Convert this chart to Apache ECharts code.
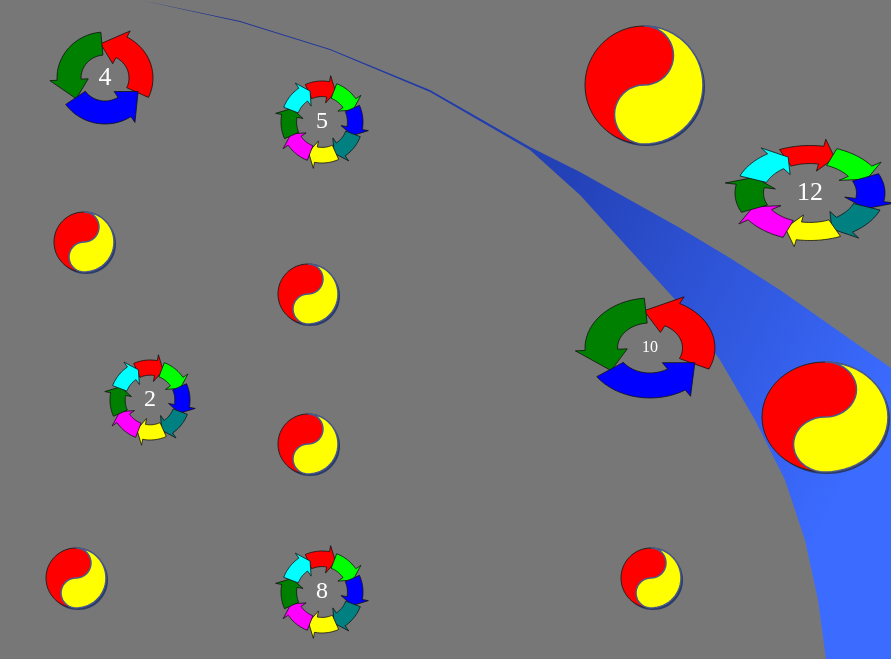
<!DOCTYPE html>
<html>
<head>
<meta charset="utf-8">
<script src="https://cdn.jsdelivr.net/npm/echarts@6/dist/echarts.min.js"></script>
<style>html,body{margin:0;padding:0;background:#777;}#main{width:891px;height:659px;}</style>
</head>
<body>
<div id="main"></div>
<script>
// nodes
var nodeNames = ['1','2','3','4','5','6','7','8','9','10','11','12','13'];
var nodeX = [76, 150, 84, 105, 322, 308, 308, 322, 651, 650, 644, 810, 825];
var nodeY = [578, 400, 242, 78, 122, 294, 444, 592, 578, 348, 85, 193, 417];
var nodeW = [60, 80, 60, 96, 82, 60, 60, 82, 60, 130, 118, 150, 126];
var nodeH = [60, 80, 60, 92, 82, 60, 60, 82, 60, 100, 118, 95, 110];
var nodeKind = ['yy','ring8','yy','ring3','ring8','yy','yy','ring8','yy','ring3','yy','ring8','yy'];
var labelSize = [26, 24, 16, 26, 24, 22, 20, 24, 22, 16, 17, 26, 16];

// swoosh edges
var swooshLeftX = [140, 240, 330, 430, 530, 580, 630, 680, 720, 755, 785, 805, 818, 826];
var swooshLeftY = [0, 22, 50, 92, 150, 195, 250, 305, 360, 420, 480, 540, 600, 659];
var swooshRightX = [140, 240, 330, 430, 530, 580, 630, 680, 730, 780, 830, 891];
var swooshRightY = [0, 21, 49, 90, 147, 172, 200, 228, 258, 290, 325, 368];

var chart = echarts.init(document.getElementById('main'));

function ringPoly(cx, cy, rx, ry, a0, a1, ri) {
  // arc arrow from a0 to a1 (degrees, math), head at a1
  var pts = [], n = 16, ro = 1.0, w = 0.15;
  var aH = a1 - (a1 - a0) * 0.28;
  function P(a, f) { var r = a * Math.PI / 180; return [cx + rx * f * Math.cos(r), cy - ry * f * Math.sin(r)]; }
  for (var i = 0; i <= n; i++) pts.push(P(a0 + (aH - a0) * i / n, ro));
  pts.push(P(aH, ro + w));
  pts.push(P(a1, (ri + ro) / 2));
  pts.push(P(aH, ri - w));
  for (var j = n; j >= 0; j--) pts.push(P(a0 + (aH - a0) * j / n, ri));
  return pts;
}

function yyPoly(cx, cy, rx, ry) {
  var pts = [], i, t;
  function P(x, y) { return [cx + x * rx, cy + y * ry]; }
  for (i = 0; i <= 30; i++) { t = -Math.PI / 2 + Math.PI * i / 30; pts.push(P(Math.cos(t), Math.sin(t))); }
  for (i = 0; i <= 20; i++) { t = Math.PI / 2 + Math.PI * i / 20; pts.push(P(0.5 * Math.cos(t), 0.5 + 0.5 * Math.sin(t))); }
  for (i = 0; i <= 20; i++) { t = Math.PI / 2 - Math.PI * i / 20; pts.push(P(0.5 * Math.cos(t), -0.5 + 0.5 * Math.sin(t))); }
  return pts;
}

var ring8Colors = ['#ff0000', '#00ff00', '#0000ff', '#008080', '#ffff00', '#ff00ff', '#008000', '#00ffff'];
var ring3Colors = ['#ff0000', '#008000', '#0000ff'];

var nodeData = nodeNames.map(function (n, i) {
  return [nodeX[i], nodeY[i], nodeW[i], nodeH[i], i];
});
var swooshData = [];
swooshLeftX.forEach(function (x, i) { swooshData.push([x, swooshLeftY[i]]); });
swooshData.push([891, 659]);
for (var k = swooshRightX.length - 1; k >= 0; k--) swooshData.push([swooshRightX[k], swooshRightY[k]]);

chart.setOption({
  backgroundColor: '#777777',
  animation: false,
  grid: { left: 0, right: 0, top: 0, bottom: 0 },
  xAxis: { type: 'value', min: 0, max: 891, show: false },
  yAxis: { type: 'value', min: 0, max: 659, inverse: true, show: false },
  series: [
    {
      type: 'custom',
      data: [0],
      renderItem: function (params, api) {
        var pts = swooshData.map(function (p) { return api.coord(p); });
        return {
          type: 'polygon',
          shape: { points: pts },
          style: {
            fill: new echarts.graphic.LinearGradient(0, 0, 1, 0.6, [
              { offset: 0, color: '#1a2f8a' },
              { offset: 0.55, color: '#2442b8' },
              { offset: 1, color: '#3b6bff' }
            ])
          }
        };
      }
    },
    {
      type: 'custom',
      data: nodeData,
      renderItem: function (params, api) {
        var c = api.coord([api.value(0), api.value(1)]);
        var rx = api.value(2) / 2, ry = api.value(3) / 2, idx = api.value(4);
        var kind = nodeKind[idx], children = [];
        if (kind === 'yy') {
          children.push({ type: 'ellipse', shape: { cx: c[0] + 2, cy: c[1] + 2, rx: rx, ry: ry }, style: { fill: '#2a3a6a' } });
          children.push({ type: 'ellipse', shape: { cx: c[0], cy: c[1], rx: rx, ry: ry }, style: { fill: '#ff0000', stroke: '#222', lineWidth: 1 } });
          children.push({ type: 'polygon', shape: { points: yyPoly(c[0], c[1], rx, ry) }, style: { fill: '#ffff00', stroke: '#4a5a8a', lineWidth: 1.5 } });
          children.push({ type: 'text', style: { text: nodeNames[idx], x: c[0] + rx * 0.1, y: c[1] - ry * 0.45, fill: '#ff0000', font: labelSize[idx] + 'px "Liberation Serif", serif', align: 'center', verticalAlign: 'middle' } });
        } else {
          var cols = kind === 'ring8' ? ring8Colors : ring3Colors;
          cols.forEach(function (col, j) {
            var a0, a1, ri;
            if (kind === 'ring8') { var m = 90 - 45 * j; a0 = m + 24; a1 = m - 24; ri = 0.62; }
            else { a0 = -25 + 120 * j; a1 = a0 + 122; ri = 0.5; }
            children.push({ type: 'polygon', shape: { points: ringPoly(c[0], c[1], rx, ry, a0, a1, ri) }, style: { fill: col, stroke: '#111', lineWidth: 0.8 } });
          });
          children.push({ type: 'text', style: { text: nodeNames[idx], x: c[0], y: c[1], fill: '#ffffff', font: labelSize[idx] + 'px "Liberation Serif", serif', align: 'center', verticalAlign: 'middle' } });
        }
        return { type: 'group', children: children };
      }
    }
  ]
});
</script>
</body>
</html>
